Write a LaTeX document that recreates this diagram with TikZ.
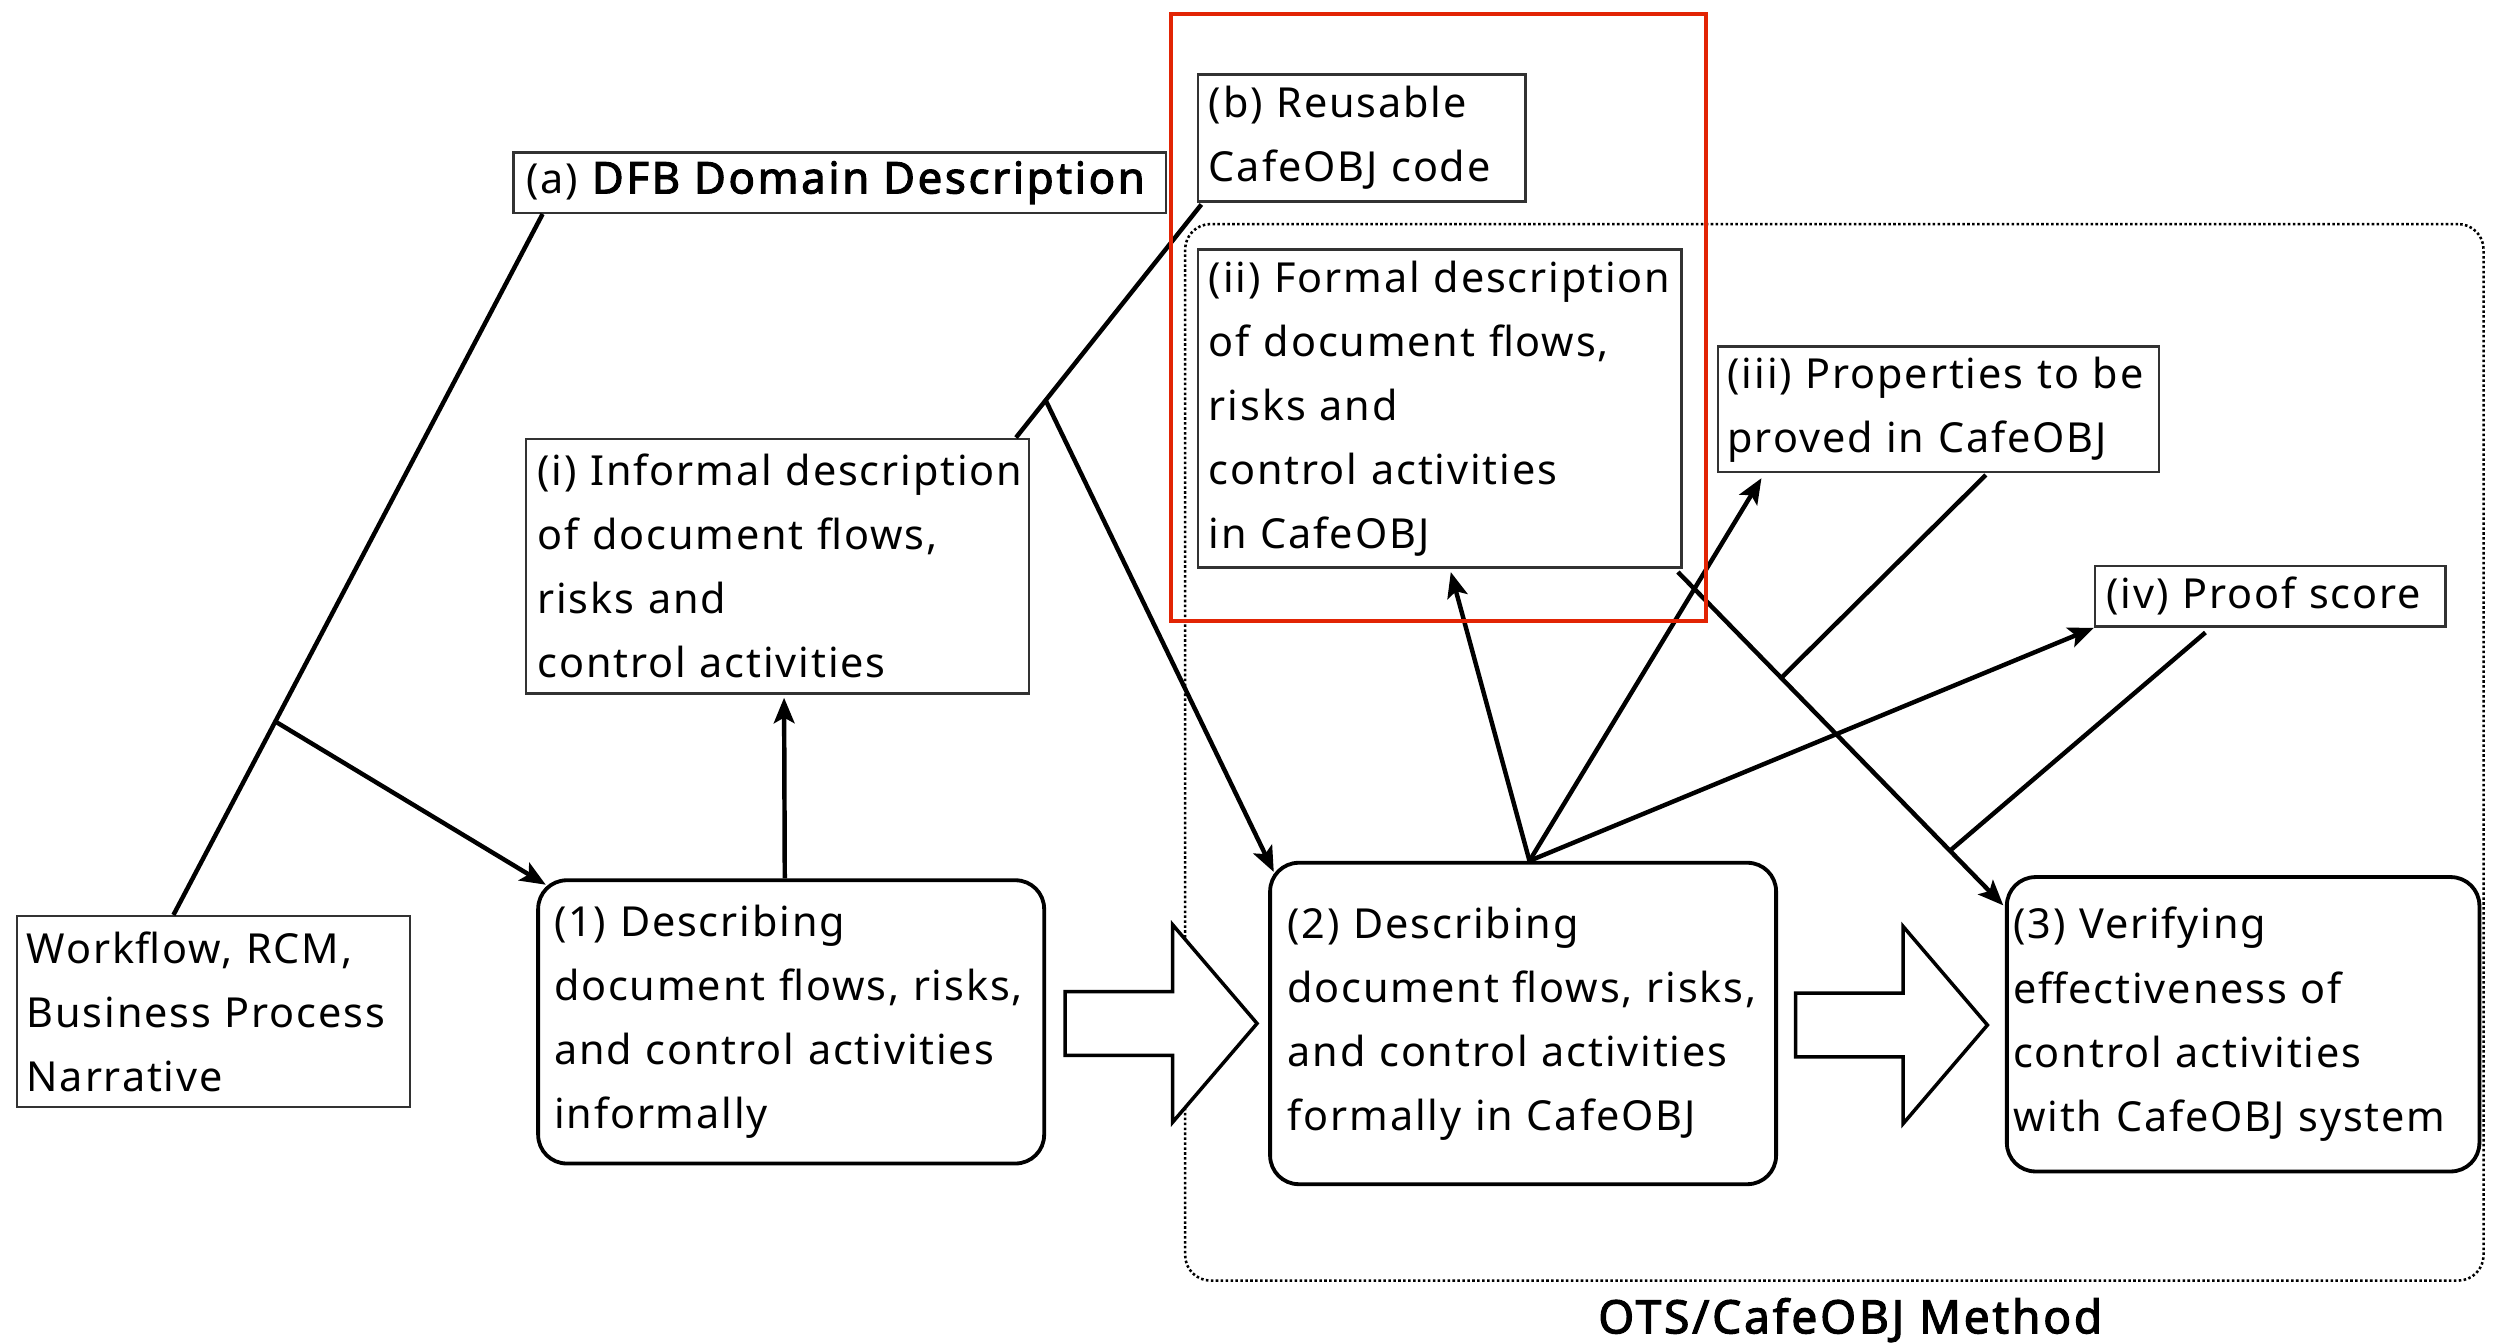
\documentclass[tikz,border=0pt]{standalone}
\usepackage{fontspec}
\setmainfont{Noto Sans}[LetterSpace=4.5, BoldFont={Noto Sans}, BoldFeatures={FakeBold=2.4, LetterSpace=6}]
\usetikzlibrary{arrows.meta,calc}

\definecolor{framered}{RGB}{226,36,4}
\definecolor{boxgray}{RGB}{50,50,50}

\newcommand{\txt}{\fontsize{26}{40.3}\selectfont}

% block arrow between two points on the same level
\newcommand{\blockarr}[2]{%
  \draw[blockarrow] let \p1=(#1), \p2=(#2) in
    (\x1,\y1+20pt) -- (\x2-53pt,\y1+20pt) -- (\x2-53pt,\y1+62pt) -- (\x2,\y1)
    -- (\x2-53pt,\y1-62pt) -- (\x2-53pt,\y1-20pt) -- (\x1,\y1-20pt) -- cycle;}

\begin{document}
\begin{tikzpicture}[x=1pt,y=-1pt,
  note/.style={draw=boxgray, line width=1.5pt, anchor=north west, align=left,
    font=\txt, inner ysep=0pt},
  proc/.style={draw=black, line width=2.4pt, rounded corners=18pt, anchor=north west,
    align=left, font=\txt, inner ysep=0pt},
  conn/.style={line width=2.8pt},
  arr/.style={conn, -{Stealth[length=16pt,width=13pt,inset=3.5pt]}},
  blockarrow/.style={draw=black, line width=2.2pt, fill=white, line join=miter},
  dotframe/.style={draw=black, line width=1.6pt, dash pattern=on 1.6pt off 1.5pt,
    rounded corners=16pt, anchor=north west, inner sep=0pt},
  redframe/.style={draw=framered, line width=2.6pt},
]
\useasboundingbox (0,0) rectangle (1568,844);

% method region
\node[dotframe, minimum width=816, minimum height=664] (ots) at (744,140) {};
\node[font=\fontsize{29}{40}\selectfont\bfseries, inner sep=0pt] (otslabel)
  at ($(ots.south)+(10,24)$) {OTS/CafeOBJ Method};

% descriptions
\node[note, text width=235, minimum height=120, inner xsep=6] (wf) at (10,575)
  {Workflow, RCM,\\Business Process\\Narrative};
\node[note, text width=394, minimum height=38, inner xsep=8] (a) at (322,95)
  {(a) {\fontsize{27.5}{40}\selectfont\bfseries DFB Domain Description}};
\node[note, text width=192, minimum height=80, inner xsep=7] (b) at (752,46)
  {(b) Reusable\\CafeOBJ code};
\node[note, text width=290, minimum height=200, inner xsep=7] (ii) at (752,156)
  {(ii) Formal description\\of document flows,\\risks and\\control activities\\in CafeOBJ};
\node[note, text width=265, minimum height=79, inner xsep=6] (iii) at (1079,217)
  {(iii) Properties to be\\proved in CafeOBJ};
\node[note, text width=206, minimum height=38, inner xsep=7] (iv) at (1316,355)
  {(iv) Proof score};
\node[note, text width=302, minimum height=160, inner xsep=7] (i) at (330,275)
  {(i) Informal description\\of document flows,\\risks and\\control activities};

% process steps
\node[proc, text width=298, minimum height=178, inner xsep=10] (one) at (337,552)
  {(1) Describing\\document flows, risks,\\and control activities\\informally};
\node[proc, text width=296, minimum height=202, inner xsep=11] (two) at (797,541)
  {(2) Describing\\document flows, risks,\\and control activities\\formally in CafeOBJ};
\node[proc, text width=289, minimum height=185, inner xsep=4] (three) at (1260,550)
  {(3) Verifying\\effectiveness of\\control activities\\with CafeOBJ system};

% step arrows
\blockarr{$(one.east)+(12,1)$}{$(two.west)+(-7,1)$}
\blockarr{$(two.east)+(11,1)$}{$(three.west)+(-11,0.5)$}

% inputs on the left
\coordinate (as) at ($(a.south west)+(19,0)$);
\coordinate (we) at ($(wf.north west)+(99,0)$);
\draw[conn] (as) -- (we);
\draw[arr] ($(as)!0.724!(we)$) -- ($(one.north west)+(6,4)$);
\draw[arr] ($(one.north)+(-4,0)$) -- ($(i.south)+(4,2)$);

\coordinate (bs) at ($(b.south west)+(3,1)$);
\coordinate (be) at ($(i.north east)+(-9,0)$);
\draw[conn] (bs) -- (be);
\draw[arr] ($(bs)!0.84!(be)$) -- ($(two.north west)+(3.5,7)$);

% outputs of step (2)
\coordinate (fan) at ($(two.north)+(4,0)$);
\draw[arr] (fan) -- ($(ii.south)+(7,2)$);
\draw[arr] (fan) -- ($(iii.south west)+(28,3)$);
\draw[arr] (fan) -- (iv.south west);

% inputs of step (3)
\coordinate (fs) at ($(ii.south east)+(-3,2)$);
\coordinate (fe) at ($(three.north west)+(-1,19)$);
\draw[arr] (fs) -- (fe);
\draw[conn] ($(iii.south west)+(169,1)$) -- ($(fs)!0.3175!(fe)$);
\draw[conn] ($(iv.south west)+(70,3)$) -- ($(fs)!0.836!(fe)$);

% highlight
\draw[redframe] (736,9) rectangle (1072,390);
\end{tikzpicture}
\end{document}
